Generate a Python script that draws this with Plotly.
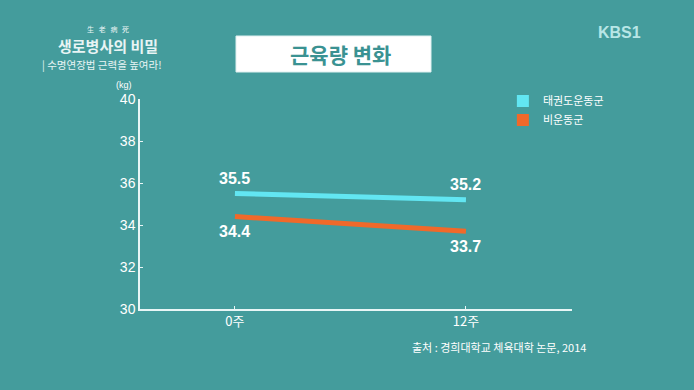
import plotly.graph_objects as go

categories = ["0주", "12주"]
taekwondo = [35.5, 35.2]
no_exercise = [34.4, 33.7]
series_names = ["태권도운동군", "비운동군"]
y_ticks = [30, 32, 34, 36, 38, 40]

BG = "#449c9c"
CYAN = "#62e6f2"
ORANGE = "#f0692a"
FONT = "Noto Sans CJK KR, Liberation Sans, sans-serif"

fig = go.Figure()
x_idx = [0, 1]
fig.add_trace(go.Scatter(x=x_idx, y=taekwondo, mode="lines", line=dict(color=CYAN, width=5),
                         showlegend=False))
fig.add_trace(go.Scatter(x=x_idx, y=no_exercise, mode="lines", line=dict(color=ORANGE, width=5),
                         showlegend=False))
for name, col in zip(series_names, [CYAN, ORANGE]):
    fig.add_trace(go.Scatter(x=[None], y=[None], mode="markers", name=name,
                             marker=dict(symbol="square", size=10, color=col)))

# value labels
for xi, v in zip(x_idx, taekwondo):
    fig.add_annotation(x=xi, y=v, text=f"<b>{v}</b>", showarrow=False, yshift=15,
                       xanchor="center", yanchor="middle",
                       font=dict(size=16, color="white", family="Liberation Sans"))
for xi, v in zip(x_idx, no_exercise):
    fig.add_annotation(x=xi, y=v, text=f"<b>{v}</b>", showarrow=False, yshift=-15,
                       xanchor="center", yanchor="middle",
                       font=dict(size=16, color="white", family="Liberation Sans"))

fig.update_layout(
    width=694, height=390,
    margin=dict(l=140, r=122, t=99, b=81),
    paper_bgcolor=BG, plot_bgcolor=BG,
    font=dict(family=FONT, color="white"),
    legend=dict(x=0.84, y=1.06, xanchor="left", yanchor="top", bgcolor="rgba(0,0,0,0)",
                font=dict(size=11, color="white", family=FONT), itemsizing="constant",
                tracegroupgap=0),
)
fig.update_xaxes(range=[-0.411, 1.459], tickvals=x_idx, ticktext=categories, showgrid=False,
                 zeroline=False, showline=True, linecolor="#e8f6f6", linewidth=1.5,
                 ticks="inside", ticklen=3, tickcolor="#e8f6f6",
                 tickfont=dict(size=13, color="white", family=FONT))
fig.update_yaxes(range=[30, 40], tickvals=y_ticks, showgrid=False, zeroline=False,
                 showline=True, linecolor="#e8f6f6", linewidth=1.5,
                 ticks="inside", ticklen=3, tickcolor="#e8f6f6",
                 tickfont=dict(size=14, color="white", family="Liberation Sans"))


def px(xp, yp):
    return (xp - 140) / 432, (309 - yp) / 210


def note(xp, yp, text, size, color="white", family=FONT, xanchor="center"):
    x, y = px(xp, yp)
    fig.add_annotation(x=x, y=y, xref="paper", yref="paper", text=text, showarrow=False,
                       xanchor=xanchor, yanchor="middle",
                       font=dict(size=size, color=color, family=family))


# unit label
note(124, 85, "(kg)", 9, family="Liberation Sans")

# title box
x0, y0 = px(236, 72)
x1, y1 = px(431, 36)
fig.add_shape(type="rect", xref="paper", yref="paper", x0=x0, y0=y0, x1=x1, y1=y1,
              fillcolor="white", line=dict(color="#dff0f0", width=1))
note(340, 54, "<b>근육량 변화</b>", 21, color="#3a9292")

# source
note(588, 347, "출처 : 경희대학교 체육대학 논문, 2014", 11, xanchor="right")

# KBS1 logo
note(619, 32, "<b>KBS1</b>", 16, color="#b8e6e6", family="Liberation Sans")

# program logo
note(108, 29, "生   老   病   死", 7, color="#e8f4f4", family="Noto Sans CJK SC")
note(108, 45, "<b>생로병사의 비밀</b>", 15, color="#e8f4f4")
note(102, 65, "| 수명연장법 근력을 높여라!", 10.5, color="#e8f4f4")

fig.write_html("out.html", config={"displayModeBar": False},
               post_script="document.body.style.margin='0';document.body.style.background='#449c9c';")
